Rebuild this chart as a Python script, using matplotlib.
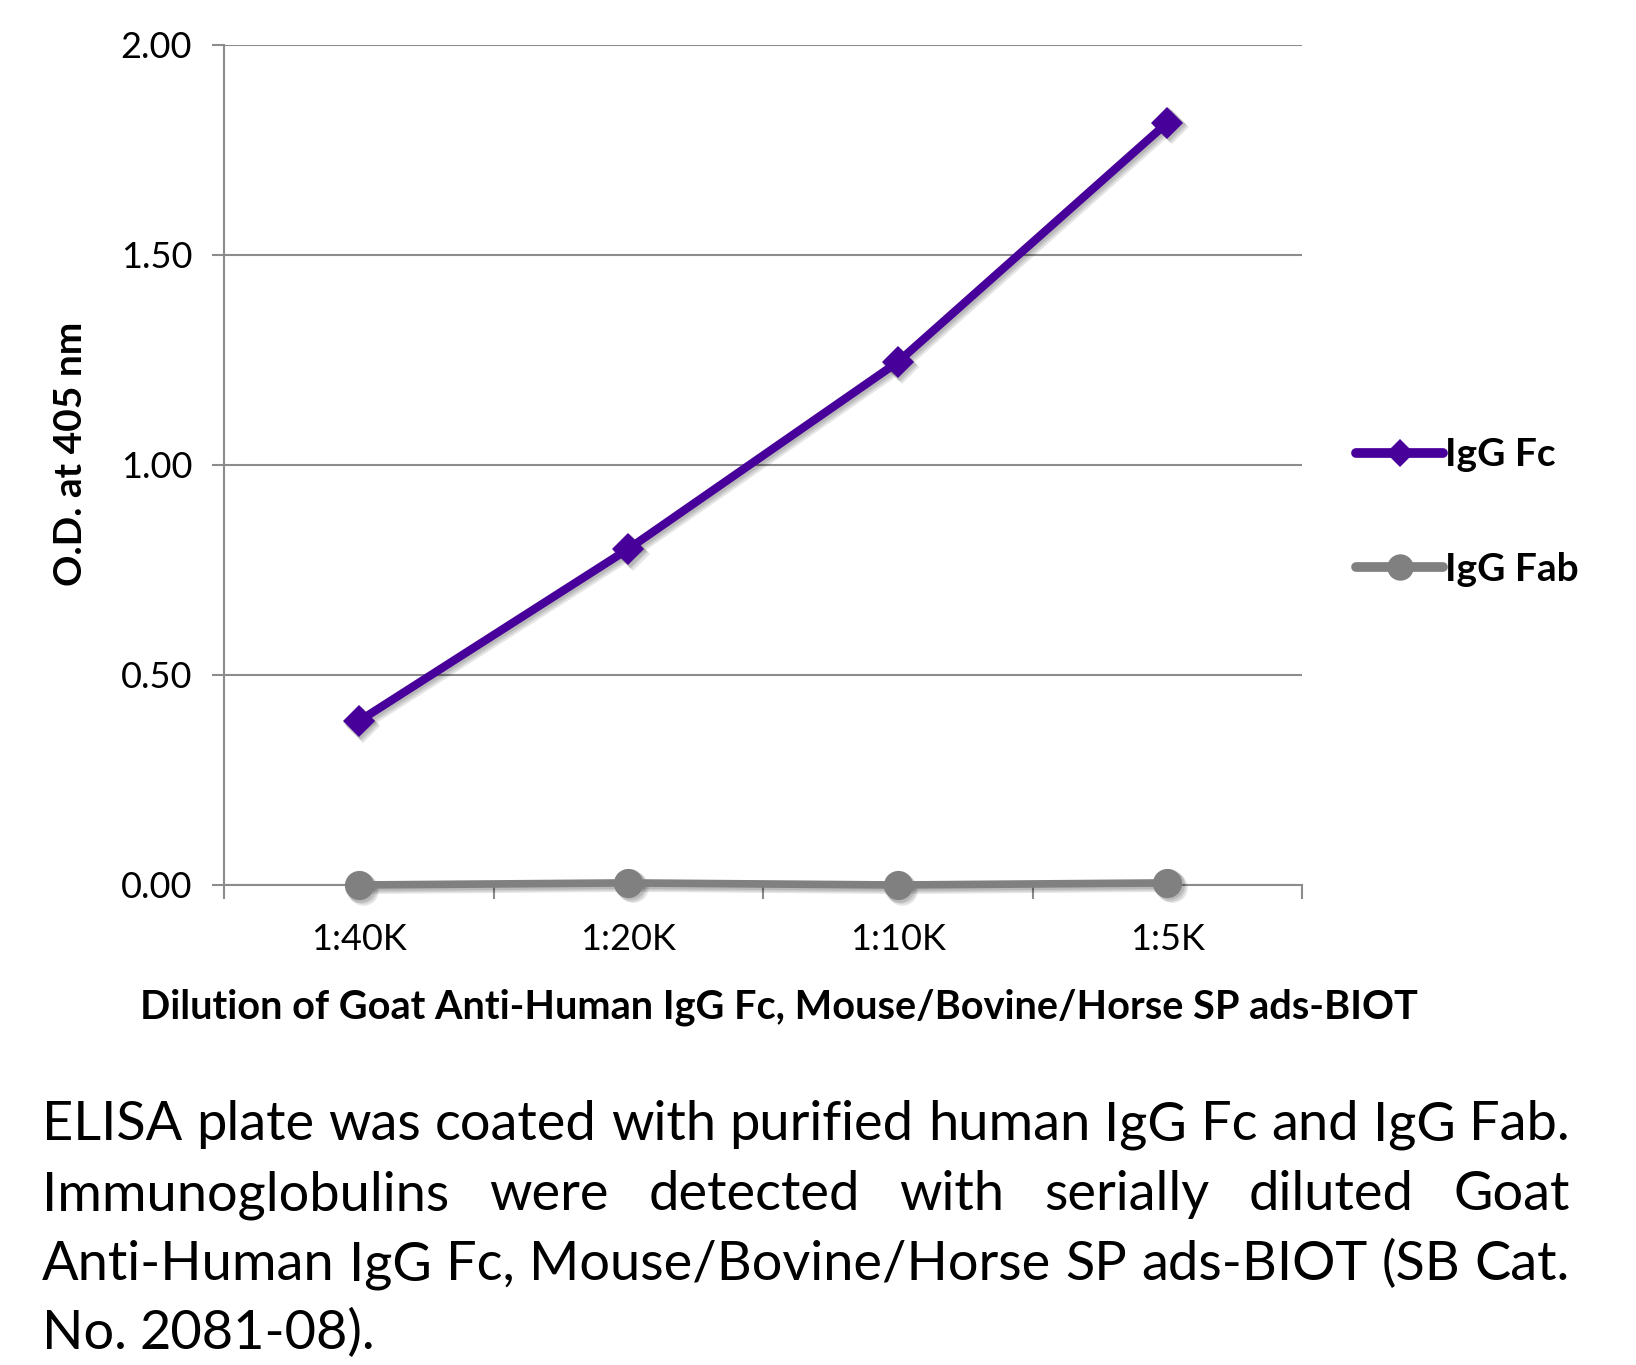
import matplotlib
matplotlib.use("Agg")
import matplotlib.pyplot as plt
import matplotlib.transforms as mtransforms
from matplotlib.lines import Line2D

dilutions = ["1:40K", "1:20K", "1:10K", "1:5K"]
igg_fc = [0.39, 0.80, 1.245, 1.815]
igg_fab = [0.0, 0.005, 0.0, 0.005]
y_ticks = [0.0, 0.5, 1.0, 1.5, 2.0]
y_labels = ["0.00", "0.50", "1.00", "1.50", "2.00"]
caption_lines = [
    "ELISA plate was coated with purified human IgG Fc and IgG Fab.",
    "Immunoglobulins were detected with serially diluted Goat",
    "Anti-Human IgG Fc, Mouse/Bovine/Horse SP ads-BIOT (SB Cat.",
    "No. 2081-08).",
]

purple = "#48009A"
gray = "#808080"
axis_gray = "#8C8C8C"
plt.rcParams["font.family"] = ["Lato", "DejaVu Sans"]

W, H = 1636, 1365
fig = plt.figure(figsize=(W / 100, H / 100), dpi=100)
ax = fig.add_axes([224 / W, 1 - 885 / H, (1302 - 224) / W, (885 - 45) / H])

x = range(len(dilutions))
series = [(igg_fc, purple, 6, "D", 16), (igg_fab, gray, 5.5, "o", 21)]

# soft drop shadow: a few offset, faint copies of each series
for ys, c, lw, mk, ms in series:
    for d in (1.5, 3, 4.5):
        off = mtransforms.ScaledTranslation(d / 100, -d / 100, fig.dpi_scale_trans)
        ax.plot(x, ys, color="k", alpha=0.1, lw=lw + 1, marker=mk, ms=ms + 1,
                mew=0, zorder=4, clip_on=False, transform=ax.transData + off)
for ys, c, lw, mk, ms in series:
    ax.plot(x, ys, color=c, lw=lw, marker=mk, ms=ms, mew=0, zorder=5, clip_on=False)

ax.set_xlim(-0.5, len(dilutions) - 0.5)
ax.set_ylim(0, 2.0)
ax.set_yticks(y_ticks)
ax.set_yticklabels(y_labels, fontsize=26)
ax.set_xticks(list(x))
ax.set_xticklabels(dilutions, fontsize=26)
ax.set_xticks([i - 0.5 for i in range(len(dilutions) + 1)], minor=True)
ax.tick_params(axis="x", which="major", length=0, pad=27)
ax.tick_params(axis="x", which="minor", length=10, width=1.5, color=axis_gray)
ax.tick_params(axis="y", length=9, width=1.5, color=axis_gray, pad=14)
ax.grid(axis="y", color=axis_gray, lw=1.5)
ax.set_axisbelow(True)
for s in ["top", "right"]:
    ax.spines[s].set_visible(False)
for s in ["left", "bottom"]:
    ax.spines[s].set_color(axis_gray)
    ax.spines[s].set_linewidth(1.5)

ax.set_ylabel("O.D. at 405 nm", fontsize=28, fontweight="bold")
ax.yaxis.set_label_coords(-0.126, 0.513)
fig.text(779 / W, 1 - 1019 / H, "Dilution of Goat Anti-Human IgG Fc, Mouse/Bovine/Horse SP ads-BIOT",
         fontsize=28.5, fontweight="bold", ha="center", va="baseline")

handles = [
    Line2D([], [], color=purple, lw=7, marker="D", ms=14, mew=0, solid_capstyle="round"),
    Line2D([], [], color=gray, lw=7, marker="o", ms=19, mew=0, solid_capstyle="round"),
]
fig.legend(handles, ["IgG Fc", "IgG Fab"], loc="center left",
           bbox_to_anchor=(1356 / W, 1 - 512 / H), frameon=False,
           prop={"size": 28, "weight": "bold"}, handlelength=2.24,
           handletextpad=0.05, labelspacing=2.05, borderpad=0, borderaxespad=0)

# justified caption
renderer = fig.canvas.get_renderer()
left_px, right_px = 42, 1570
baselines = [1140, 1210, 1280, 1349]
probe = fig.text(0, 0, caption_lines[0], fontsize=36)
cap_size = 36 * (right_px - left_px) / probe.get_window_extent(renderer).width
probe.remove()
for i, line in enumerate(caption_lines):
    words = line.split()
    y = 1 - baselines[i] / H
    texts = [fig.text(0, y, w, fontsize=cap_size, va="baseline", ha="left") for w in words]
    widths = [t.get_window_extent(renderer).width for t in texts]
    if i < len(caption_lines) - 1:
        gap = (right_px - left_px - sum(widths)) / (len(words) - 1)
    else:
        gap = 0.24 * cap_size * 100 / 72
    xp = left_px
    for t, w in zip(texts, widths):
        t.set_x(xp / W)
        xp += w + gap

fig.savefig("out.png", dpi=100)
